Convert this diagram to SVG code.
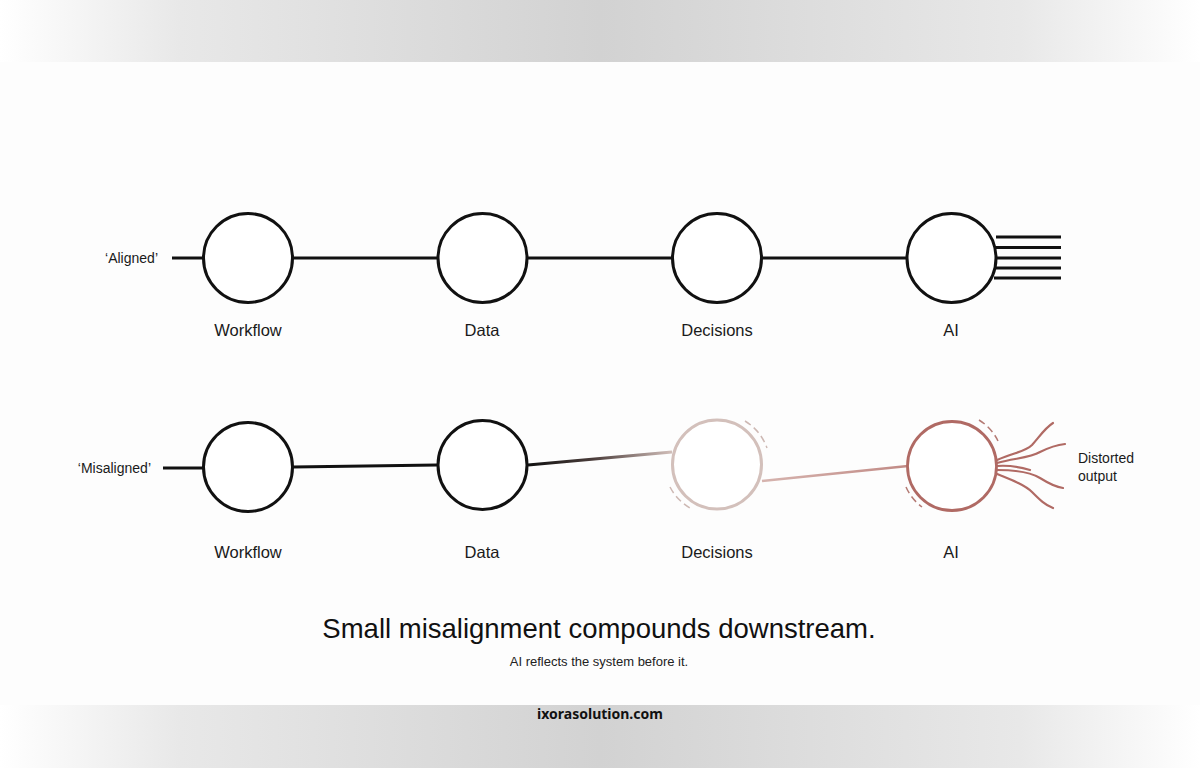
<svg xmlns="http://www.w3.org/2000/svg" width="1200" height="768" viewBox="0 0 1200 768">
<defs>
<linearGradient id="band" x1="0" y1="0" x2="1" y2="0">
<stop offset="0" stop-color="#ffffff"/>
<stop offset="0.15" stop-color="#e8e8e8"/>
<stop offset="0.5" stop-color="#d2d2d2"/>
<stop offset="0.85" stop-color="#e8e8e8"/>
<stop offset="1" stop-color="#ffffff"/>
</linearGradient>
<linearGradient id="fadeLine" gradientUnits="userSpaceOnUse" x1="528" y1="0" x2="672" y2="0">
<stop offset="0" stop-color="#111111"/>
<stop offset="0.45" stop-color="#4a3c3a"/>
<stop offset="1" stop-color="#d2bfba"/>
</linearGradient>
<linearGradient id="pinkLine" gradientUnits="userSpaceOnUse" x1="762" y1="0" x2="908" y2="0">
<stop offset="0" stop-color="#d6b4af"/>
<stop offset="1" stop-color="#c18a85"/>
</linearGradient>
<style>
.node{fill:#ffffff;stroke:#111111;stroke-width:3}
.edge{stroke:#111111;stroke-width:3;fill:none}
.lbl{font-family:"Liberation Sans",Arial,sans-serif;font-size:16.5px;fill:#1a1a1a;text-anchor:middle}
.side{font-family:"Liberation Sans",Arial,sans-serif;font-size:14px;fill:#1a1a1a}
.dash{fill:none;stroke-width:1.5;stroke-dasharray:7 4}
.wave{fill:none;stroke:#b06a64;stroke-width:2.2;stroke-linecap:round}
</style>
</defs>
<rect width="1200" height="768" fill="#fdfdfd"/>
<rect x="0" y="0" width="1200" height="62" fill="url(#band)"/>
<rect x="0" y="705" width="1200" height="63" fill="url(#band)"/>

<g id="connectors">
<line class="edge" x1="172" y1="258" x2="204" y2="258"/>
<line class="edge" x1="293" y1="258" x2="437" y2="258"/>
<line class="edge" x1="528" y1="258" x2="672" y2="258"/>
<line class="edge" x1="762" y1="258" x2="907" y2="258"/>
<g stroke="#111111" stroke-width="3">
<line x1="996" y1="237" x2="1061" y2="237"/>
<line x1="996" y1="247.5" x2="1061" y2="247.5"/>
<line x1="997" y1="258" x2="1061" y2="258"/>
<line x1="996" y1="268" x2="1061" y2="268"/>
<line x1="994" y1="278" x2="1061" y2="278"/>
</g>
<line class="edge" x1="163" y1="468" x2="204" y2="468"/>
<line class="edge" x1="293" y1="467" x2="437" y2="465"/>
<path d="M528 465 L672 452" stroke="url(#fadeLine)" stroke-width="3" fill="none"/>
<path d="M762 481 L908 466" stroke="url(#pinkLine)" stroke-width="2.5" fill="none"/>
<path class="wave" d="M997 460 C1015 452 1025 452 1032 445 C1040 436 1045 428 1053 423"/>
<path class="wave" d="M997 463 C1015 458 1030 458 1040 452 C1048 448 1056 445 1065 444"/>
<path class="wave" d="M997 466 C1010 465 1020 467 1030 470"/>
<path class="wave" d="M997 470 C1015 470 1030 472 1040 478 C1048 483 1055 487 1063 488"/>
<path class="wave" d="M997 474 C1012 480 1025 485 1032 492 C1040 500 1045 505 1053 508"/>
</g>

<g id="aligned-label"><text class="side" x="158" y="263" text-anchor="end">‘Aligned’</text></g>
<g id="misaligned-label"><text class="side" x="151" y="473" text-anchor="end">‘Misaligned’</text></g>

<g id="workflow-1"><circle class="node" cx="248" cy="258" r="44.5"/><text class="lbl" x="248" y="336">Workflow</text></g>
<g id="data-1"><circle class="node" cx="482.5" cy="258" r="44.5"/><text class="lbl" x="482" y="336">Data</text></g>
<g id="decisions-1"><circle class="node" cx="717" cy="258" r="44.5"/><text class="lbl" x="717" y="336">Decisions</text></g>
<g id="ai-1"><circle class="node" cx="951.5" cy="258" r="44.5"/><text class="lbl" x="951" y="336">AI</text></g>

<g id="workflow-2"><circle class="node" cx="248" cy="467" r="44.5"/><text class="lbl" x="248" y="558">Workflow</text></g>
<g id="data-2"><circle class="node" cx="482.5" cy="465" r="44.5"/><text class="lbl" x="482" y="558">Data</text></g>
<g id="decisions-2">
<circle cx="717" cy="464.5" r="44.5" fill="#ffffff" stroke="#d3c0bb" stroke-width="3"/>
<path class="dash" stroke="#cdb8b3" d="M745 421 A52 52 0 0 1 767 448"/>
<path class="dash" stroke="#cdb8b3" d="M670 487 A52 52 0 0 0 690 508"/>
<text class="lbl" x="717" y="558">Decisions</text>
</g>
<g id="ai-2">
<circle cx="952" cy="466" r="44.5" fill="#ffffff" stroke="#b06a64" stroke-width="2.8"/>
<path class="dash" stroke="#b47a74" d="M979 420 A50 50 0 0 1 998 441"/>
<path class="dash" stroke="#b47a74" d="M906 487 A50 50 0 0 0 922 507"/>
<text class="lbl" x="951" y="558">AI</text>
</g>

<g id="distorted-label"><text class="side" x="1078" y="463">Distorted</text><text class="side" x="1078" y="481">output</text></g>

<g id="caption">
<text x="599" y="638" font-family="'Liberation Sans',Arial,sans-serif" font-size="27.5" fill="#111111" text-anchor="middle">Small misalignment compounds downstream.</text>
<text x="599" y="666" font-family="'Liberation Sans',Arial,sans-serif" font-size="13" fill="#222222" text-anchor="middle">AI reflects the system before it.</text>
</g>
<g id="footer"><text x="600" y="719" font-family="'Noto Sans','DejaVu Sans',sans-serif" font-size="14" font-weight="bold" fill="#111111" text-anchor="middle">ixorasolution.com</text></g>
</svg>
